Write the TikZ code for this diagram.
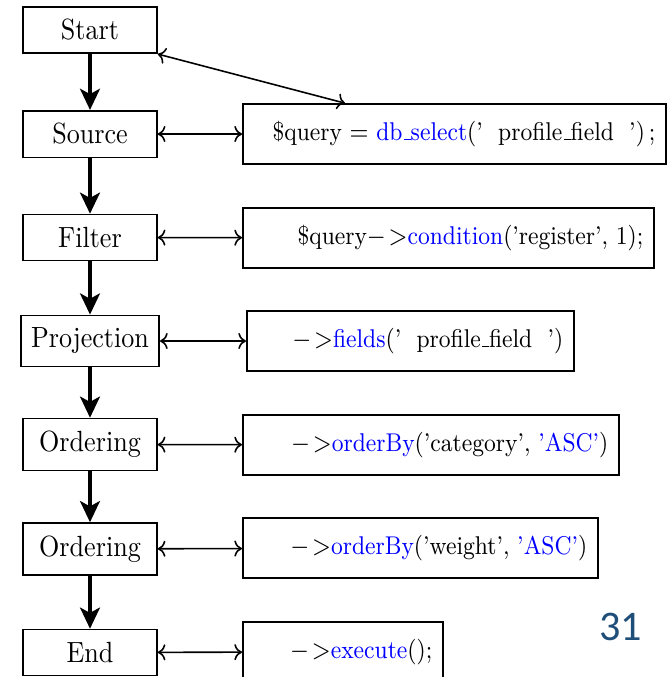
\documentclass[tikz,border=0pt]{standalone}
\usepackage{fontspec}
\newfontfamily\slidefont{Carlito}
\usetikzlibrary{arrows.meta}
\definecolor{slideblue}{HTML}{1F4E79}
\newcommand\tall[1]{\scalebox{1}[1.12]{#1}}
\newcommand\us{\kern.06em\vbox{\hrule width.3em}}
\newcommand\arr{$\mathord{-}\mkern2mu\mathord{>}$}
\begin{document}
\begin{tikzpicture}[
  stage/.style={draw,line width=0.6pt,minimum width=50.8pt,inner xsep=3.9pt,inner ysep=4.8pt,font=\fontsize{9.9}{12}\selectfont},
  code/.style={draw,line width=0.6pt,anchor=west,align=right,inner xsep=4pt,minimum height=22.8pt,font=\fontsize{8.7}{10}\selectfont},
  flow/.style={line width=1.5pt,-{Stealth[length=8pt,width=7.5pt,inset=2pt]}},
  link/.style={line width=0.6pt,<->}]
\useasboundingbox (0,0) rectangle (8.933,-9.027);
% pipeline stages
\node[stage] (start) at (1.2,-0.4) {\tall{Start}};
\node[stage] (source) at (1.2,-1.787) {\tall{Source}};
\node[stage] (filter) at (1.2,-3.167) {\tall{Filter}};
\node[stage] (proj) at (1.2,-4.547) {\tall{Projection}};
\node[stage] (order1) at (1.2,-5.927) {\tall{Ordering}};
\node[stage] (order2) at (1.2,-7.32) {\tall{Ordering}};
\node[stage] (end) at (1.2,-8.7) {\tall{End}};
% query code
\node[code,text width=152.5pt] (q1) at (3.227,-1.787) {\tall{\$query $=$ \textcolor{blue}{db\us select}('~ profile\us field~ ')\,;}};
\node[code,text width=148pt] (q2) at (3.227,-3.173) {\tall{\$query\arr\textcolor{blue}{condition}('register', 1);}};
\node[code,text width=116.1pt] (q3) at (3.28,-4.547) {\tall{\arr\textcolor{blue}{fields}('~ profile\us field~ ')}};
\node[code,text width=134.7pt] (q4) at (3.227,-5.933) {\tall{\arr\textcolor{blue}{orderBy}('category', \textcolor{blue}{'ASC'})}};
\node[code,text width=126.7pt] (q5) at (3.227,-7.307) {\tall{\arr\textcolor{blue}{orderBy}('weight', \textcolor{blue}{'ASC'})}};
\node[code,text width=67.9pt] (q6) at (3.227,-8.693) {\tall{\arr\textcolor{blue}{execute}();}};
\draw[flow] (start)--(source);
\draw[flow] (source)--(filter);
\draw[flow] (filter)--(proj);
\draw[flow] (proj)--(order1);
\draw[flow] (order1)--(order2);
\draw[flow] (order2)--(end);
\draw[link] (start.south east)--([xshift=1.373cm]q1.north west);
\draw[link] (source)--(q1);
\draw[link] (filter)--(q2);
\draw[link] (proj)--(q3);
\draw[link] (order1)--(q4);
\draw[link] (order2)--(q5);
\draw[link] (end)--(q6);
\node[font=\slidefont\fontsize{16}{19}\selectfont,text=slideblue] (page) at (8.28,-8.36) {31};
\end{tikzpicture}
\end{document}
